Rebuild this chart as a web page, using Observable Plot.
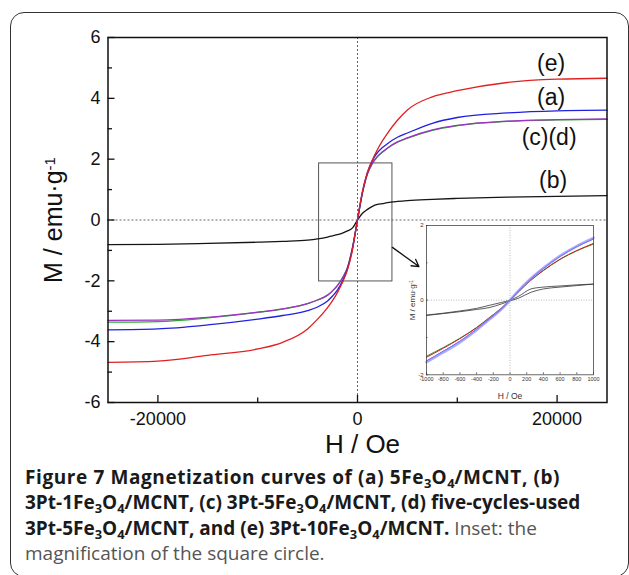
<!DOCTYPE html>
<html><head><meta charset="utf-8">
<script src="https://cdn.jsdelivr.net/npm/d3@7"></script>
<script src="https://cdn.jsdelivr.net/npm/@observablehq/plot@0.6"></script>
<style>
html,body{margin:0;padding:0;background:#fff;}
body{width:629px;height:575px;overflow:hidden;position:relative;}
#frame{position:absolute;left:10px;top:12px;width:619px;height:565px;border:1.5px solid #333;border-radius:14px;box-sizing:border-box;}
#main{position:absolute;left:0;top:0;}
#inset{position:absolute;left:399.7px;top:219px;}
#caption{position:absolute;left:25px;top:465px;font-family:"Open Sans",sans-serif;font-size:19px;line-height:25.4px;white-space:nowrap;color:#555;}
#caption b{color:#1a1a1a;font-weight:700;}
#caption .l1{letter-spacing:0.6px;}
#caption sub{font-size:0.68em;vertical-align:-0.28em;line-height:0;letter-spacing:0;}
</style></head>
<body>
<div id="frame"></div>
<div id="main"></div>
<div id="inset"></div>
<div id="caption"><b class="l1">Figure 7 Magnetization curves of (a) 5Fe<sub>3</sub>O<sub>4</sub>/MCNT, (b)</b><br><b>3Pt-1Fe<sub>3</sub>O<sub>4</sub>/MCNT, (c) 3Pt-5Fe<sub>3</sub>O<sub>4</sub>/MCNT, (d) five-cycles-used</b><br><b>3Pt-5Fe<sub>3</sub>O<sub>4</sub>/MCNT, and (e) 3Pt-10Fe<sub>3</sub>O<sub>4</sub>/MCNT.</b> Inset: the<br>magnification of the square circle.</div>
<script>
// ---------- main chart data ----------
const H = [-25000,-20000,-15000,-10000,-7500,-5000,-4000,-3000,-2500,-2000,-1500,-1000,-500,0,500,1000,1500,2000,2500,3000,4000,5000,7500,10000,15000,20000,25000];
const M_b = [-0.81,-0.80,-0.77,-0.73,-0.70,-0.66,-0.62,-0.56,-0.52,-0.48,-0.43,-0.36,-0.26,0.00,0.22,0.35,0.45,0.51,0.54,0.57,0.61,0.64,0.68,0.71,0.75,0.78,0.80];
const M_c = [-3.36,-3.34,-3.22,-3.04,-2.93,-2.75,-2.63,-2.47,-2.33,-2.15,-1.90,-1.56,-0.90,0.00,0.90,1.52,1.86,2.08,2.23,2.36,2.56,2.69,2.95,3.10,3.24,3.29,3.31];
const M_d = [-3.30,-3.29,-3.20,-3.03,-2.92,-2.75,-2.63,-2.47,-2.33,-2.15,-1.90,-1.56,-0.90,0.00,0.90,1.52,1.87,2.09,2.24,2.37,2.57,2.70,2.96,3.11,3.25,3.30,3.32];
const M_a = [-3.61,-3.58,-3.45,-3.26,-3.14,-2.98,-2.86,-2.66,-2.50,-2.30,-2.00,-1.60,-0.94,0.00,0.92,1.57,1.96,2.22,2.38,2.51,2.72,2.86,3.18,3.37,3.52,3.59,3.61];
const M_e = [-4.68,-4.64,-4.45,-4.24,-4.02,-3.58,-3.26,-2.88,-2.65,-2.38,-2.05,-1.63,-0.97,0.03,0.95,1.56,1.98,2.32,2.60,2.85,3.28,3.62,4.05,4.25,4.52,4.63,4.66];
const seriesNames = ["(b)","(c)","(d)","(a)","(e)"];
const seriesValues = [M_b, M_c, M_d, M_a, M_e];
const seriesColors = ["#151515","#22b022","#a030c8","#2020e0","#e02020"];

const xMajor = [-20000, 0, 20000];
const xMinor = [-10000, 10000];
const yMajor = [-6,-4,-2,0,2,4,6];
const yMinor = [-5,-3,-1,1,3,5];

const labelText = ["(e)","(a)","(c)(d)","(b)"];
const labelH = [19400, 19400, 19200, 19600];
const labelM = [5.15, 4.03, 2.71, 1.30];

const boxH = [-3850, 3500];
const boxM = [-2.02, 1.86];
const arrowFrom = [3500, -0.90];
const arrowTo = [6150, -1.53];

// ---------- inset data ----------
const hIn = [-1000,-800,-600,-400,-250,-100,0,100,250,400,600,800,1000];
const inPurple = [-1.66,-1.40,-1.13,-0.80,-0.52,-0.24,0,0.25,0.58,0.86,1.19,1.45,1.67];
const inBlue   = [-1.63,-1.37,-1.10,-0.78,-0.51,-0.23,0,0.24,0.57,0.85,1.17,1.43,1.64];
const inRed    = [-1.53,-1.29,-1.03,-0.74,-0.48,-0.21,0,0.22,0.54,0.80,1.10,1.33,1.52];
const inGreen  = [-1.50,-1.27,-1.02,-0.73,-0.47,-0.21,0,0.22,0.53,0.79,1.09,1.32,1.50];
const inBlackA = [-0.40,-0.35,-0.29,-0.22,-0.14,-0.06,0,0.10,0.30,0.35,0.38,0.41,0.43];
const inBlackB = [-0.41,-0.36,-0.31,-0.25,-0.20,-0.10,-0.02,0.05,0.21,0.30,0.35,0.39,0.43];
const inNames = ["blackA","blackB","green","red","blue","purple"];
const inValues = [inBlackA, inBlackB, inGreen, inRed, inBlue, inPurple];
const inColors = ["#333","#333","#3a9a3a","#c82020","#3030d8","#8c8cff"];
const inWidths = [0.8, 0.8, 1, 1, 1, 2.6];
const inXTicks = [-1000,-800,-600,-400,-200,0,200,400,600,800,1000];
const inYTicks = [-2,0,2];
const inYMinor = [-1,1];

// ---------- build tables ----------
const rows = [];
seriesNames.forEach((s, i) => H.forEach((h, j) => rows.push({s, H: h, M: seriesValues[i][j]})));
const labels = labelText.map((t, i) => ({t, H: labelH[i], M: labelM[i]}));
const box = [{x1: boxH[0], x2: boxH[1], y1: boxM[0], y2: boxM[1]}];
const arrow = [{x1: arrowFrom[0], y1: arrowFrom[1], x2: arrowTo[0], y2: arrowTo[1]}];
const fmt = d => String(d);
const YLABEL = "M / emu·g-1";
const FONT = "'Liberation Sans', Arial, Helvetica, sans-serif";

const main = Plot.plot({
  width: 629, height: 460,
  marginLeft: 107.5, marginRight: 22.5, marginTop: 37, marginBottom: 58,
  style: {background: "transparent", fontFamily: FONT, color: "#111"},
  x: {domain: [-25000, 25000]},
  y: {domain: [-6, 6]},
  color: {domain: seriesNames, range: seriesColors},
  marks: [
    Plot.ruleY([0], {stroke: "#666", strokeDasharray: "2,2"}),
    Plot.ruleX([0], {stroke: "#666", strokeDasharray: "2,2"}),
    Plot.rect(box, {x1: "x1", x2: "x2", y1: "y1", y2: "y2", stroke: "#555", fill: "none", strokeWidth: 1}),
    Plot.line(rows, {x: "H", y: "M", z: "s", stroke: "s", curve: "monotone-x", strokeWidth: 1.3}),
    Plot.arrow(arrow, {x1: "x1", y1: "y1", x2: "x2", y2: "y2", stroke: "#111", strokeWidth: 1.3, headLength: 9}),
    Plot.text(labels, {x: "H", y: "M", text: "t", fontSize: 23, fill: "#111"}),
    Plot.frame({stroke: "#111", strokeWidth: 1.5}),
    Plot.axisX(xMajor, {tickSize: -7, tickPadding: 17, fontSize: 18, tickFormat: fmt, label: null, strokeWidth: 1.3}),
    Plot.axisX(xMinor, {tickSize: -4.5, tickFormat: () => "", label: null, strokeWidth: 1.3}),
    Plot.axisY(yMajor, {tickSize: -7, tickPadding: 14.5, fontSize: 18, tickFormat: fmt, label: null, strokeWidth: 1.3}),
    Plot.axisY(yMinor, {tickSize: -4.5, tickFormat: () => "", label: null, strokeWidth: 1.3}),
    Plot.text(["H / Oe"], {frameAnchor: "bottom", lineAnchor: "middle", textAnchor: "middle", dx: 5, dy: 42, fontSize: 26, fill: "#111"}),
    Plot.text([YLABEL], {frameAnchor: "left", lineAnchor: "middle", textAnchor: "middle", rotate: -90, dx: -54, fontSize: 25, fill: "#111"})
  ]
});
document.getElementById("main").appendChild(main);

const inRows = [];
inNames.forEach((s, i) => hIn.forEach((h, j) => inRows.push({s, H: h, M: inValues[i][j]})));
const inLines = inNames.map((s, i) => Plot.line(inRows.filter(r => r.s === s), {
  x: "H", y: "M", stroke: inColors[i], strokeWidth: inWidths[i], strokeOpacity: s === "purple" ? 0.75 : 1, curve: "monotone-x"
}));

const inset = Plot.plot({
  width: 201, height: 186,
  marginLeft: 26, marginRight: 8, marginTop: 6, marginBottom: 30.7,
  style: {background: "transparent", fontFamily: "'Liberation Sans Narrow','Liberation Sans', Arial, sans-serif", color: "#333"},
  x: {domain: [-1000, 1000]},
  y: {domain: [-2, 2]},
  marks: [
    Plot.ruleX([0], {stroke: "#bbb", strokeDasharray: "1,1.5"}),
    Plot.ruleY([0], {stroke: "#bbb", strokeDasharray: "1,1.5"}),
    ...inLines,
    Plot.frame({stroke: "#444", strokeWidth: 0.8}),
    Plot.axisX(inXTicks, {tickSize: -2, tickPadding: 4, fontSize: 5.5, tickFormat: fmt, label: null, strokeWidth: 0.7}),
    Plot.axisY(inYTicks, {tickSize: -2, tickPadding: 5, fontSize: 6, tickFormat: fmt, label: null, strokeWidth: 0.7}),
    Plot.axisY(inYMinor, {tickSize: -1.5, tickFormat: () => "", label: null, strokeWidth: 0.7}),
    Plot.text(["H / Oe"], {frameAnchor: "bottom", lineAnchor: "middle", textAnchor: "middle", dy: 21, fontSize: 8.5, fill: "#333"}),
    Plot.text([YLABEL], {frameAnchor: "left", lineAnchor: "middle", textAnchor: "middle", rotate: -90, dx: -13.7, fontSize: 8, fill: "#333"})
  ]
});
document.getElementById("inset").appendChild(inset);

// superscript on the y labels
document.querySelectorAll("svg text").forEach(t => {
  if (t.textContent === YLABEL) {
    t.innerHTML = 'M / emu·g<tspan dy="-0.45em" font-size="0.6em">-1</tspan>';
  }
});
</script>
</body></html>
